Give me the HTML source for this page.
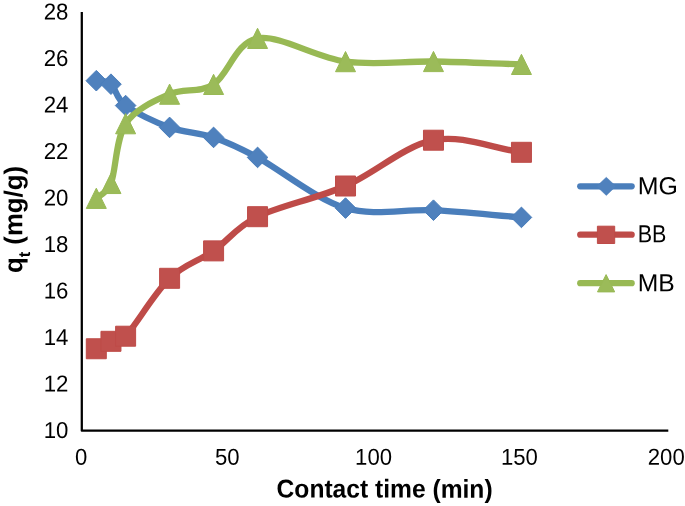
<!DOCTYPE html>
<html><head><meta charset="utf-8"><title>Chart</title>
<style>
html,body{margin:0;padding:0;background:#fff;}
svg{display:block}
  .t{font-family:"Liberation Sans",sans-serif;font-size:23.0px;fill:#000}
.l{font-family:"Liberation Sans",sans-serif;font-size:24.55px;fill:#000}
.b{font-family:"Liberation Sans",sans-serif;font-size:25.8px;font-weight:bold;fill:#000}
</style></head><body>
<svg width="685" height="506" viewBox="0 0 685 506">
<rect width="685" height="506" fill="#fff"/>
<path d="M96.30 80.69 C101.19 81.85 106.07 80.03 110.96 84.18 C115.85 88.32 115.85 98.36 125.62 105.56 C135.39 112.77 154.94 122.11 169.60 127.42 C184.26 132.73 198.92 132.42 213.58 137.42 C227.78 142.26 236.27 146.01 257.56 157.41 C279.55 169.19 316.20 199.30 345.52 208.10 C374.84 216.89 404.16 208.64 433.48 210.19 C462.80 211.74 492.12 215.00 521.44 217.40" fill="none" stroke="#4a7ebb" stroke-width="6.3" stroke-linecap="round" stroke-linejoin="round"/>
<path d="M96.30 70.39 l10.3 10.3 l-10.3 10.3 l-10.3 -10.3 z" fill="#4f81bd" stroke="#4a7ebb" stroke-width="1" stroke-linejoin="round"/>
<path d="M110.96 73.88 l10.3 10.3 l-10.3 10.3 l-10.3 -10.3 z" fill="#4f81bd" stroke="#4a7ebb" stroke-width="1" stroke-linejoin="round"/>
<path d="M125.62 95.27 l10.3 10.3 l-10.3 10.3 l-10.3 -10.3 z" fill="#4f81bd" stroke="#4a7ebb" stroke-width="1" stroke-linejoin="round"/>
<path d="M169.60 117.12 l10.3 10.3 l-10.3 10.3 l-10.3 -10.3 z" fill="#4f81bd" stroke="#4a7ebb" stroke-width="1" stroke-linejoin="round"/>
<path d="M213.58 127.12 l10.3 10.3 l-10.3 10.3 l-10.3 -10.3 z" fill="#4f81bd" stroke="#4a7ebb" stroke-width="1" stroke-linejoin="round"/>
<path d="M257.56 147.11 l10.3 10.3 l-10.3 10.3 l-10.3 -10.3 z" fill="#4f81bd" stroke="#4a7ebb" stroke-width="1" stroke-linejoin="round"/>
<path d="M345.52 197.80 l10.3 10.3 l-10.3 10.3 l-10.3 -10.3 z" fill="#4f81bd" stroke="#4a7ebb" stroke-width="1" stroke-linejoin="round"/>
<path d="M433.48 199.89 l10.3 10.3 l-10.3 10.3 l-10.3 -10.3 z" fill="#4f81bd" stroke="#4a7ebb" stroke-width="1" stroke-linejoin="round"/>
<path d="M521.44 207.10 l10.3 10.3 l-10.3 10.3 l-10.3 -10.3 z" fill="#4f81bd" stroke="#4a7ebb" stroke-width="1" stroke-linejoin="round"/>
<path d="M96.30 348.76 C101.19 346.28 106.07 343.41 110.96 341.32 C113.60 340.19 120.33 341.89 125.62 336.21 C135.39 325.70 154.94 292.53 169.60 278.31 C184.26 264.09 198.92 261.15 213.58 250.88 C228.24 240.61 235.57 227.51 257.56 216.70 C279.55 205.89 316.20 198.76 345.52 186.01 C374.84 173.26 404.16 145.83 433.48 140.21 C462.80 134.59 492.12 148.27 521.44 152.30" fill="none" stroke="#be4b48" stroke-width="6.3" stroke-linecap="round" stroke-linejoin="round"/>
<rect x="86.30" y="338.76" width="20.0" height="20.0" fill="#c0504d" stroke="#be4b48" stroke-width="1" stroke-linejoin="round"/>
<rect x="100.96" y="331.32" width="20.0" height="20.0" fill="#c0504d" stroke="#be4b48" stroke-width="1" stroke-linejoin="round"/>
<rect x="115.62" y="326.21" width="20.0" height="20.0" fill="#c0504d" stroke="#be4b48" stroke-width="1" stroke-linejoin="round"/>
<rect x="159.60" y="268.31" width="20.0" height="20.0" fill="#c0504d" stroke="#be4b48" stroke-width="1" stroke-linejoin="round"/>
<rect x="203.58" y="240.88" width="20.0" height="20.0" fill="#c0504d" stroke="#be4b48" stroke-width="1" stroke-linejoin="round"/>
<rect x="247.56" y="206.70" width="20.0" height="20.0" fill="#c0504d" stroke="#be4b48" stroke-width="1" stroke-linejoin="round"/>
<rect x="335.52" y="176.01" width="20.0" height="20.0" fill="#c0504d" stroke="#be4b48" stroke-width="1" stroke-linejoin="round"/>
<rect x="423.48" y="130.21" width="20.0" height="20.0" fill="#c0504d" stroke="#be4b48" stroke-width="1" stroke-linejoin="round"/>
<rect x="511.44" y="142.30" width="20.0" height="20.0" fill="#c0504d" stroke="#be4b48" stroke-width="1" stroke-linejoin="round"/>
<path d="M96.30 198.33 C98.21 196.39 107.14 193.17 110.96 183.45 C115.85 171.01 115.85 138.58 125.62 123.70 C135.39 108.82 154.94 100.72 169.60 94.17 C184.26 87.62 198.92 93.71 213.58 84.41 C228.24 75.11 235.57 42.17 257.56 38.37 C279.55 34.57 316.20 57.77 345.52 61.62 C374.84 65.48 404.16 61.04 433.48 61.51 C462.80 61.97 492.12 63.44 521.44 64.41" fill="none" stroke="#98b954" stroke-width="6.3" stroke-linecap="round" stroke-linejoin="round"/>
<path d="M96.30 188.23 l10.0 20.2 h-20.0 z" fill="#9bbb59" stroke="#98b954" stroke-width="1" stroke-linejoin="round"/>
<path d="M110.96 173.35 l10.0 20.2 h-20.0 z" fill="#9bbb59" stroke="#98b954" stroke-width="1" stroke-linejoin="round"/>
<path d="M125.62 113.60 l10.0 20.2 h-20.0 z" fill="#9bbb59" stroke="#98b954" stroke-width="1" stroke-linejoin="round"/>
<path d="M169.60 84.07 l10.0 20.2 h-20.0 z" fill="#9bbb59" stroke="#98b954" stroke-width="1" stroke-linejoin="round"/>
<path d="M213.58 74.31 l10.0 20.2 h-20.0 z" fill="#9bbb59" stroke="#98b954" stroke-width="1" stroke-linejoin="round"/>
<path d="M257.56 28.27 l10.0 20.2 h-20.0 z" fill="#9bbb59" stroke="#98b954" stroke-width="1" stroke-linejoin="round"/>
<path d="M345.52 51.52 l10.0 20.2 h-20.0 z" fill="#9bbb59" stroke="#98b954" stroke-width="1" stroke-linejoin="round"/>
<path d="M433.48 51.41 l10.0 20.2 h-20.0 z" fill="#9bbb59" stroke="#98b954" stroke-width="1" stroke-linejoin="round"/>
<path d="M521.44 54.31 l10.0 20.2 h-20.0 z" fill="#9bbb59" stroke="#98b954" stroke-width="1" stroke-linejoin="round"/>
<path d="M81.8 11.9 V430.7 H668.3" stroke="#000" stroke-width="2.25" fill="none" stroke-linejoin="round"/>
<text transform="translate(68.40,438.10) rotate(0.05)" class="t" text-anchor="end" textLength="24.70" lengthAdjust="spacingAndGlyphs">10</text>
<text transform="translate(68.40,391.60) rotate(0.05)" class="t" text-anchor="end" textLength="24.70" lengthAdjust="spacingAndGlyphs">12</text>
<text transform="translate(68.40,345.10) rotate(0.05)" class="t" text-anchor="end" textLength="24.70" lengthAdjust="spacingAndGlyphs">14</text>
<text transform="translate(68.40,298.60) rotate(0.05)" class="t" text-anchor="end" textLength="24.70" lengthAdjust="spacingAndGlyphs">16</text>
<text transform="translate(68.40,252.10) rotate(0.05)" class="t" text-anchor="end" textLength="24.70" lengthAdjust="spacingAndGlyphs">18</text>
<text transform="translate(68.40,205.60) rotate(0.05)" class="t" text-anchor="end" textLength="24.70" lengthAdjust="spacingAndGlyphs">20</text>
<text transform="translate(68.40,159.10) rotate(0.05)" class="t" text-anchor="end" textLength="24.70" lengthAdjust="spacingAndGlyphs">22</text>
<text transform="translate(68.40,112.60) rotate(0.05)" class="t" text-anchor="end" textLength="24.70" lengthAdjust="spacingAndGlyphs">24</text>
<text transform="translate(68.40,66.10) rotate(0.05)" class="t" text-anchor="end" textLength="24.70" lengthAdjust="spacingAndGlyphs">26</text>
<text transform="translate(68.40,19.60) rotate(0.05)" class="t" text-anchor="end" textLength="24.70" lengthAdjust="spacingAndGlyphs">28</text>
<text transform="translate(81.04,464.70) rotate(0.05)" class="t" text-anchor="middle" textLength="12.30" lengthAdjust="spacingAndGlyphs">0</text>
<text transform="translate(227.24,464.70) rotate(0.05)" class="t" text-anchor="middle" textLength="24.60" lengthAdjust="spacingAndGlyphs">50</text>
<text transform="translate(373.54,464.70) rotate(0.05)" class="t" text-anchor="middle" textLength="36.90" lengthAdjust="spacingAndGlyphs">100</text>
<text transform="translate(519.44,464.70) rotate(0.05)" class="t" text-anchor="middle" textLength="36.90" lengthAdjust="spacingAndGlyphs">150</text>
<text transform="translate(666.24,464.70) rotate(0.05)" class="t" text-anchor="middle" textLength="36.90" lengthAdjust="spacingAndGlyphs">200</text>
<text transform="translate(384.60,497.60) rotate(0.05)" class="b" text-anchor="middle" textLength="216.00" lengthAdjust="spacingAndGlyphs">Contact time (min)</text>
<text transform="translate(22.30,273.00) rotate(-90.05)" class="b" textLength="107.00" lengthAdjust="spacingAndGlyphs">q<tspan dy="7.6" font-size="16.5">t</tspan><tspan dy="-7.6"> (mg/g)</tspan></text>
<path d="M580.2 186.35 H631.7" stroke="#4a7ebb" stroke-width="6.2" stroke-linecap="round"/>
<path d="M606.3 177.25 l9.6 9.1 l-9.6 9.1 l-9.6 -9.1 z" fill="#4f81bd" stroke="#4a7ebb" stroke-width="0.5" stroke-linejoin="round"/>
<text transform="translate(637.70,194.15) rotate(0.05)" class="l" textLength="40.10" lengthAdjust="spacingAndGlyphs">MG</text>
<path d="M580.2 234.65 H631.7" stroke="#be4b48" stroke-width="6.2" stroke-linecap="round"/>
<rect x="597.4" y="226.2" width="17.3" height="17.3" fill="#c0504d" stroke="#be4b48" stroke-width="1" stroke-linejoin="round"/>
<text transform="translate(637.70,242.20) rotate(0.05)" class="l" textLength="28.70" lengthAdjust="spacingAndGlyphs">BB</text>
<path d="M580.2 283.20 H631.7" stroke="#98b954" stroke-width="6.2" stroke-linecap="round"/>
<path d="M606.1 274.6 l8.6 17.3 h-17.2 z" fill="#9bbb59" stroke="#98b954" stroke-width="1" stroke-linejoin="round"/>
<text transform="translate(637.70,291.30) rotate(0.05)" class="l" textLength="37.00" lengthAdjust="spacingAndGlyphs">MB</text>
</svg>
</body></html>
